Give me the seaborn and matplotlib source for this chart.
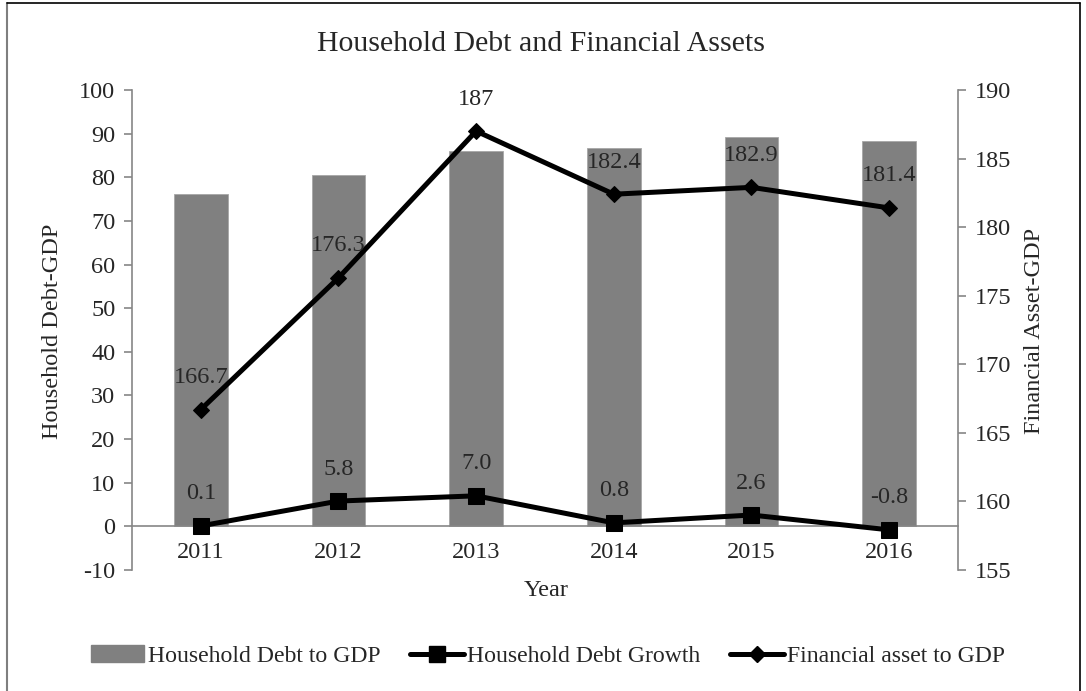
import matplotlib
matplotlib.use("Agg")
import matplotlib.pyplot as plt
from matplotlib.lines import Line2D
from matplotlib.patches import Patch
import seaborn as sns
import numpy as np
import pandas as pd

years = ["2011", "2012", "2013", "2014", "2015", "2016"]
debt_to_gdp = [76.1, 80.5, 86.0, 86.8, 89.2, 88.4]
debt_growth = [0.1, 5.8, 7.0, 0.8, 2.6, -0.8]
fin_asset_gdp = [166.7, 176.3, 187.0, 182.4, 182.9, 181.4]
growth_labels = ["0.1", "5.8", "7.0", "0.8", "2.6", "-0.8"]
asset_labels = ["166.7", "176.3", "187", "182.4", "182.9", "181.4"]
left_ticks = [-10, 0, 10, 20, 30, 40, 50, 60, 70, 80, 90, 100]
right_ticks = [155, 160, 165, 170, 175, 180, 185, 190]

sns.set_style("white")
plt.rcParams["font.family"] = ["Liberation Serif", "DejaVu Serif"]
plt.rcParams["axes.unicode_minus"] = False
FS = 17.5

df = pd.DataFrame({"Year": years, "pos": np.arange(len(years)),
                   "Debt": debt_to_gdp, "Growth": debt_growth,
                   "Asset": fin_asset_gdp})

fig = plt.figure(figsize=(10.86, 6.91), dpi=100)
ax = fig.add_axes([0.1215, 0.1751, 0.7606, 0.6947])

AXC = "#868686"
sns.barplot(data=df, x="Year", y="Debt", color="#808080", saturation=1,
            width=0.39, edgecolor="#a6a6a6", linewidth=0.6, ax=ax, zorder=1)
sns.lineplot(data=df, x="pos", y="Growth", color="black", linewidth=3.6,
             marker="s", markersize=12, markeredgecolor="black", ax=ax, zorder=3)

ax.set_xlim(-0.5, len(years) - 0.5)
ax.set_ylim(-10, 100)
ax.set_yticks(left_ticks)
ax.set_xticks(np.arange(len(years)))
ax.set_xticklabels(years)
ax.set_xticks(np.arange(len(years) - 1) + 0.5, minor=True)
ax.tick_params(axis="x", which="major", length=0, pad=11, labelsize=FS)
ax.tick_params(axis="x", which="minor", length=6, width=1.2, color=AXC, direction="out")
ax.tick_params(axis="y", length=6, width=1.2, color=AXC, direction="out", labelsize=FS, pad=6)
ax.spines["bottom"].set_position(("data", 0))
for s in ["bottom", "left"]:
    ax.spines[s].set_color(AXC)
    ax.spines[s].set_linewidth(1.2)
ax.spines["top"].set_visible(False)
ax.spines["right"].set_visible(False)
ax.set_ylabel("")
ax.set_xlabel("")

for i, (v, t) in enumerate(zip(debt_growth, growth_labels)):
    ax.annotate(t, (i, v), xytext=(0, 23), textcoords="offset points",
                ha="center", va="center", fontsize=FS)

ax2 = ax.twinx()
sns.lineplot(data=df, x="pos", y="Asset", color="black", linewidth=3.6,
             marker="D", markersize=8.5, markeredgecolor="black", ax=ax2, zorder=3)
ax2.set_ylim(155, 190)
ax2.set_yticks(right_ticks)
ax2.tick_params(axis="y", length=6, width=1.2, color=AXC, direction="out", labelsize=FS, pad=6)
for s in ["top", "left", "bottom"]:
    ax2.spines[s].set_visible(False)
ax2.spines["right"].set_color(AXC)
ax2.spines["right"].set_linewidth(1.2)
ax2.set_ylabel("")
ax2.set_xlabel("")
for i, (v, t) in enumerate(zip(fin_asset_gdp, asset_labels)):
    ax2.annotate(t, (i, v), xytext=(0, 23), textcoords="offset points",
                 ha="center", va="center", fontsize=FS)

fig.text(53 / 1086, 1 - 331 / 691, "Household Debt-GDP", rotation=90,
         ha="center", va="center", fontsize=FS)
fig.text(1034 / 1086, 1 - 331 / 691, "Financial Asset-GDP", rotation=90,
         ha="center", va="center", fontsize=FS)
fig.text(546 / 1086, 1 - 591 / 691, "Year", ha="center", va="center", fontsize=FS)
fig.text(541 / 1086, 1 - 44 / 691, "Household Debt and Financial Assets",
         ha="center", va="center", fontsize=21.5)

handles = [Patch(facecolor="#808080", edgecolor="#808080"),
           Line2D([], [], color="black", lw=3.6, marker="s", markersize=12),
           Line2D([], [], color="black", lw=3.6, marker="D", markersize=8.5)]
labels = ["Household Debt to GDP", "Household Debt Growth", "Financial asset to GDP"]
fig.legend(handles, labels, loc="center", bbox_to_anchor=(548 / 1086, 1 - 656 / 691),
           ncol=3, frameon=False, fontsize=17.1, handlelength=2.25, handletextpad=0.15,
           columnspacing=1.25, borderaxespad=0)

# outer frame
fig.add_artist(Line2D([7 / 1086, 7 / 1086], [0, 1 - 3 / 691], color="#7f7f7f", lw=1.5,
                      transform=fig.transFigure))
fig.add_artist(Line2D([7 / 1086, 1080 / 1086], [1 - 3 / 691, 1 - 3 / 691], color="black",
                      lw=1.2, transform=fig.transFigure))
fig.add_artist(Line2D([1080 / 1086, 1080 / 1086], [0, 1 - 3 / 691], color="black", lw=1.2,
                      transform=fig.transFigure))

fig.savefig("out.png", dpi=100)
